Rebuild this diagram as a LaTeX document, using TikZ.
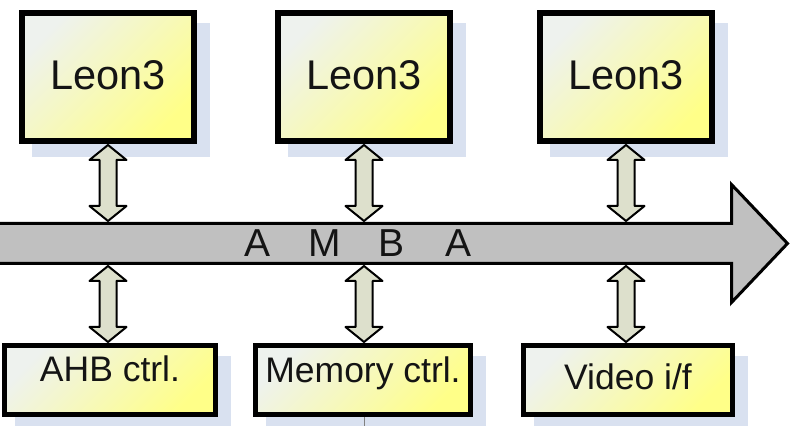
\documentclass[tikz,border=0pt]{standalone}
\usepackage{fontspec}
\setmainfont{Liberation Sans}
\usetikzlibrary{calc}
\definecolor{boxtl}{RGB}{238,242,238}
\definecolor{boxmid}{RGB}{250,250,162}
\definecolor{boxbr}{RGB}{255,255,136}
\definecolor{shadowc}{RGB}{217,225,240}
\definecolor{busgray}{RGB}{192,192,192}
\definecolor{linkfill}{RGB}{221,224,204}
\definecolor{ink}{RGB}{20,20,20}
\tikzset{
  cpubox/.style={draw=black, line width=6pt, top color=boxtl, middle color=boxmid,
    bottom color=boxbr, shading angle=45, minimum width=172pt, minimum height=128pt,
    inner sep=0pt, text=ink, font=\fontsize{41.5pt}{44pt}\selectfont,
    preaction={draw=shadowc, fill=shadowc, line width=6pt,
      transform canvas={shift={(13pt,-13pt)}}}},
  periphbox/.style={draw=black, line width=5pt, top color=boxtl, middle color=boxmid,
    bottom color=boxbr, shading angle=45, minimum height=69pt, inner sep=0pt,
    text=ink, font=\fontsize{35.5pt}{38pt}\selectfont,
    preaction={draw=shadowc, fill=shadowc, line width=5pt,
      transform canvas={shift={(13pt,-13pt)}}}},
  busarrow/.style={draw=black, fill=busgray, line width=3pt, line join=miter},
  linkarr/.style={draw=black, fill=linkfill, line width=2pt, line join=round},
  buslabel/.style={text=ink, font=\fontsize{39pt}{42pt}\selectfont, inner sep=0pt},
  stub/.style={draw=gray, line width=1pt}
}
% vertical double-headed block arrow between two points (#1 above #2)
\newcommand\linkarrow[2]{%
  \draw[linkarr] let \p1=(#1), \p2=(#2) in
    (\x1,\y1-1pt) -- (\x1+18.5pt,\y1-16pt) -- (\x1+8.5pt,\y1-16pt)
    -- (\x1+8.5pt,\y2+16pt) -- (\x1+18.5pt,\y2+16pt) -- (\x1,\y2+1pt)
    -- (\x1-18.5pt,\y2+16pt) -- (\x1-8.5pt,\y2+16pt)
    -- (\x1-8.5pt,\y1-16pt) -- (\x1-18.5pt,\y1-16pt) -- cycle;}
\begin{document}
\begin{tikzpicture}[x=1pt,y=1pt]
\useasboundingbox (0,0) rectangle (791,425);

% processors
\node[cpubox] (cpu1) at (108,348) {\raisebox{4pt}{Leon3}};
\node[cpubox] (cpu2) at (364,348) {\raisebox{4pt}{Leon3}};
\node[cpubox] (cpu3) at (626,348) {\raisebox{4pt}{Leon3}};

% peripherals
\node[periphbox, minimum width=211pt] (ahb) at (110,45) {\raisebox{22pt}{AHB ctrl.}};
\node[periphbox, minimum width=215pt] (mem) at (363,45) {\raisebox{20pt}{Memory ctrl.}};
\node[periphbox, minimum width=209pt] (vid) at (628,45) {\raisebox{6pt}{Video i/f}};

% AMBA bus
\draw[busarrow] (-10,201.5) -- (731.5,201.5) -- (731.5,240.5) -- (787.5,181.5)
  -- (731.5,122.5) -- (731.5,161.5) -- (-10,161.5) -- cycle;
\node[buslabel] (amba) at (358.5,181.5)
  {\makebox[67pt]{A}\makebox[67pt]{M}\makebox[67pt]{B}\makebox[67pt]{A}};

% bus attachment points
\foreach \n/\x in {1/108, 2/364, 3/626} {
  \coordinate (bt\n) at (\x,203);
  \coordinate (bb\n) at (\x,160);
}

% links
\linkarrow{cpu1.south}{bt1}
\linkarrow{cpu2.south}{bt2}
\linkarrow{cpu3.south}{bt3}
\linkarrow{bb1}{ahb.north -| bb1}
\linkarrow{bb2}{mem.north -| bb2}
\linkarrow{bb3}{vid.north -| bb3}

% outgoing line below the memory controller
\coordinate (memout) at (364,-2);
\draw[stub] (mem.south -| memout) -- (memout);
\end{tikzpicture}
\end{document}
